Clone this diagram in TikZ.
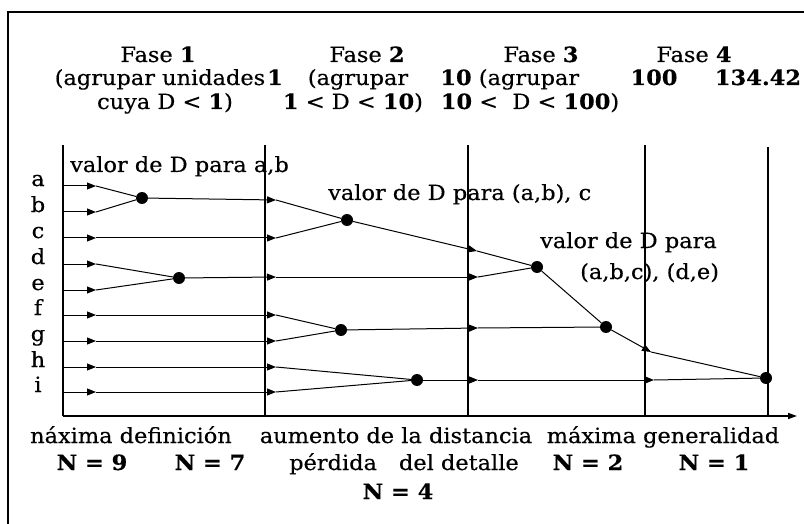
\documentclass[tikz,border=0pt]{standalone}
\usepackage{fontspec}
\setmainfont[FakeStretch=1.07,FakeBold=0.4]{DejaVu Serif}
\usetikzlibrary{arrows.meta}
\newcommand\dg[1]{\textbf{#1}}
\begin{document}
\begin{tikzpicture}[x=1pt,y=-1pt,
  lbl/.style={font=\fontsize{21}{25}\selectfont, inner sep=0pt, anchor=base},
  lblw/.style={lbl, anchor=base west},
  nlbl/.style={lbl, font=\fontsize{21}{25}\selectfont\bfseries},
  conn/.style={line width=1pt},
  arr/.style={conn, -{Triangle[length=9pt,width=7pt]}},
  dot/.style={circle, fill, inner sep=0pt, minimum size=12pt},
  axisline/.style={line width=1.6pt}]
\useasboundingbox (0,0) rectangle (804,524);
% frame
\draw[line width=1.2pt] (8,524) -- (8,12) -- (804,12);
% vertical phase lines and axis
\draw[axisline] (63,145) -- (63,416);
\draw[axisline] (265,145) -- (265,416);
\draw[axisline] (468,145) -- (468,416);
\draw[axisline] (645,145) -- (645,416);
\draw[axisline] (768,147) -- (768,416);
\draw[axisline, -{Triangle[length=9pt,width=6pt]}] (63,416) -- (797,416);
% header texts
\node[lbl] (fase1) at (158,62) {Fase \dg{1}};
\node[lbl] (fase1b) at (160,85) {(agrupar unidades};
\node[lbl] (fase1c) at (165,109) {cuya D < \dg{1})};
\node[lbl] (sc1) at (275,85) {\dg{1}};
\node[lbl] (fase2) at (367,62) {Fase \dg{2}};
\node[lbl] (fase2b) at (358,85) {(agrupar};
\node[lbl] (fase2c) at (353,109) {\dg{1} < D < \dg{10})};
\node[lbl] (sc2) at (456,85) {\dg{10}};
\node[lbl] (fase3) at (541,62) {Fase \dg{3}};
\node[lbl] (fase3b) at (529,85) {(agrupar};
\node[lbl] (fase3c) at (530,109) {\dg{10} <\ \ D < \dg{100})};
\node[lbl] (fase4) at (694,62) {Fase \dg{4}};
\node[lbl] (sc3) at (654,85) {\dg{100}};
\node[lbl] (sc4) at (758,85) {\dg{134.42}};
% row labels and row start points
\foreach \n/\y in {a/186,b/212,c/238,d/264,e/290,f/315,g/341,h/367,i/392}{
  \node[lbl] (l\n) at (38,\y) {\n};
  \coordinate (\n0) at (63,\y);
  \coordinate (\n1) at (96,\y);
}
% dots
\node[dot] (ab) at (142,198) {};
\node[dot] (de) at (179,278) {};
\node[dot] (abc) at (347,220) {};
\node[dot] (fg) at (341,330) {};
\node[dot] (hi) at (417,380) {};
\node[dot] (abcde) at (537,267) {};
\node[dot] (abcdefg) at (606,327) {};
\node[dot] (all) at (766,378) {};
% intermediate arrow points
\coordinate (p2ab) at (276,200);
\coordinate (p2c) at (276,238);
\coordinate (p2de) at (276,277);
\coordinate (p2f) at (276,315);
\coordinate (p2g) at (276,341);
\coordinate (p2h) at (276,367);
\coordinate (p2i) at (276,392);
\coordinate (p3abc) at (477,251);
\coordinate (p3de) at (478,277);
\coordinate (p3fg) at (478,328);
\coordinate (p3hi) at (478,380);
\coordinate (p4) at (651,352);
\coordinate (p4hi) at (654,380);
% first stage
\foreach \n in {a,b,c,d,e,f,g,h,i}{ \draw[arr] (\n0) -- (\n1); }
\draw[conn] (a1) -- (ab);
\draw[conn] (b1) -- (ab);
\draw[conn] (d1) -- (de);
\draw[conn] (e1) -- (de);
\draw[arr] (c1) -- (p2c);
\draw[arr] (f1) -- (p2f);
\draw[arr] (g1) -- (p2g);
\draw[arr] (h1) -- (p2h);
\draw[arr] (i1) -- (p2i);
\draw[arr] (ab) -- (p2ab);
\draw[arr] (de) -- (p2de);
% second stage
\draw[conn] (p2ab) -- (abc);
\draw[conn] (p2c) -- (abc);
\draw[conn] (p2f) -- (fg);
\draw[conn] (p2g) -- (fg);
\draw[conn] (p2h) -- (hi);
\draw[conn] (p2i) -- (hi);
\draw[arr] (abc) -- (p3abc);
\draw[arr] (p2de) -- (p3de);
\draw[arr] (fg) -- (p3fg);
\draw[arr] (hi) -- (p3hi);
% third stage
\draw[conn] (p3abc) -- (abcde);
\draw[conn] (p3de) -- (abcde);
\draw[conn] (p3fg) -- (abcdefg);
\draw[conn] (abcde) -- (abcdefg);
\draw[arr] (abcdefg) -- (p4);
\draw[arr] (p3hi) -- (p4hi);
% fourth stage
\draw[conn] (p4) -- (all);
\draw[conn] (p4hi) -- (all);
% annotation labels
\node[lblw] (v1) at (70,172) {valor de D para a,b};
\node[lblw] (v2) at (328,200) {valor de D para (a,b), c};
\node[lblw] (v3) at (540,248) {valor de D para};
\node[lblw] (v3b) at (580,279) {(a,b,c), (d,e)};
% bottom texts
\node[lbl] (bt1) at (131,443) {náxima definición};
\node[lbl] (bt2) at (396,443) {aumento de la distancia};
\node[lbl] (bt3) at (663,443) {máxima generalidad};
\node[nlbl] (n9) at (92,470) {N = 9};
\node[nlbl] (n7) at (210,470) {N = 7};
\node[lbl] (bt4) at (404,470) {pérdida\hspace{22pt}del detalle};
\node[nlbl] (n2) at (588,470) {N = 2};
\node[nlbl] (n1) at (714,470) {N = 1};
\node[nlbl] (n4) at (398,499) {N = 4};
\end{tikzpicture}
\end{document}
